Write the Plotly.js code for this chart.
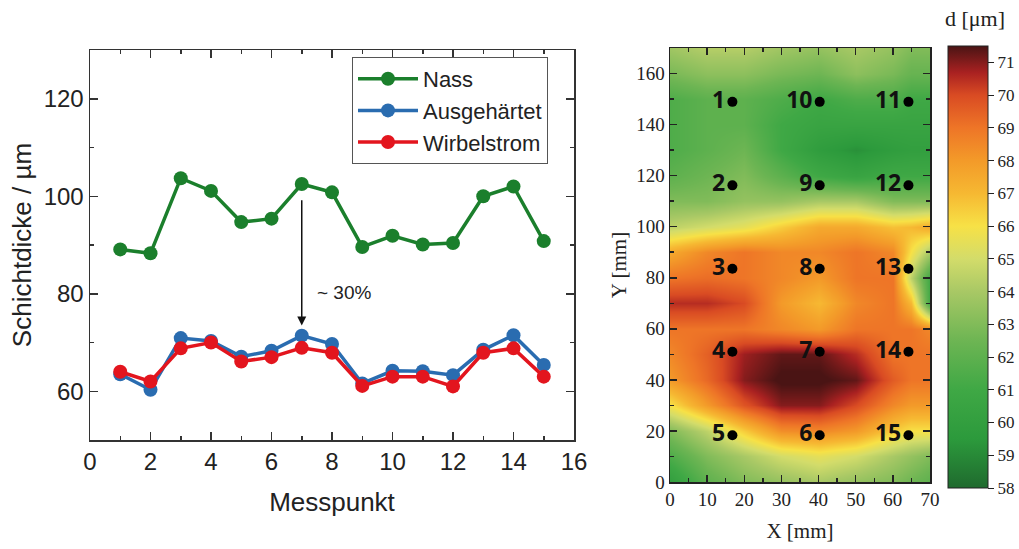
<!DOCTYPE html>
<html><head><meta charset="utf-8">
<script src="https://cdn.plot.ly/plotly-3.0.1.min.js"></script>
<style>html,body{margin:0;padding:0;background:#fff}#c{width:1019px;height:549px}</style>
</head><body><div id="c"></div>
<script>
// ---- Left chart data ----
const messpunkt = [1,2,3,4,5,6,7,8,9,10,11,12,13,14,15];
const nass = [89.1,88.3,103.7,101.1,94.7,95.4,102.5,100.8,89.6,91.9,90.1,90.4,100.0,102.0,90.8];
const ausgehaertet = [63.5,60.3,70.9,70.3,67.1,68.3,71.4,69.7,61.6,64.2,64.1,63.3,68.5,71.5,65.4];
const wirbelstrom = [64.0,62.0,68.8,70.0,66.1,67.0,68.9,67.9,61.1,63.0,63.0,61.0,67.9,68.8,63.0];
const seriesNames = ['Nass','Ausgehärtet','Wirbelstrom'];

// ---- Right chart (thickness map) data ----
const mapX = [0,10,20,30,40,50,60,65,70];
const mapY = [0,10,20,30,40,50,60,70,80,90,100,110,120,130,140,150,160,170];
const mapZ = [
  [60,62,63,63.5,64,63.5,63,62.5,62],            // y=0
  [61.5,63,64,65,65.5,65,64,63.5,63],            // 10
  [63,64.5,66.5,68.3,68.5,68,66.5,66,66],        // 20
  [66,68,69.8,71,71,70,68.5,68,68],              // 30
  [68,69.3,71,71.6,71.6,71.3,69.6,69,69],        // 40
  [68.5,69.5,70.8,71.3,71.3,70.5,69,69,69],      // 50
  [69,69,69,68.5,68,69,69,69,68.5],              // 60
  [70.5,70.5,70,68,67,68.5,69,67,61],            // 70
  [69,69.2,69,68.5,68,69,69,64.5,61],            // 80
  [67.5,68.5,69,68.5,68.5,69,68.5,66,64],        // 90
  [64.5,65,65.5,66.5,67.5,67.5,66.8,67,67.5],    // 100
  [63,63,63.5,63.5,64,64,63,63,63],              // 110
  [62,62.5,63,62,61,60.5,61,61,61],              // 120
  [61.5,62,62.5,61,59.8,59.2,59.8,60,60],        // 130
  [61.5,62,62,61,60.5,60.5,60.5,60.5,60.5],      // 140
  [61.5,62,62,61.5,61,61.5,61.5,61,61],          // 150
  [62.8,63.3,63.3,62.8,62.5,63.3,62.8,62.3,62.3],// 160
  [63.8,64.3,64.3,63.8,63.5,64,63.5,63,63]       // 170
];
const ptX = [16.8,16.8,16.8,16.8,16.8,40.3,40.3,40.3,40.3,40.3,64.2,64.2,64.2,64.2,64.2];
const ptY = [148.9,116.2,83.5,51.0,18.3,18.3,51.0,83.5,116.2,148.9,148.9,116.2,83.5,51.0,18.3];
const ptLabels = ['1','2','3','4','5','6','7','8','9','10','11','12','13','14','15'];
const cbTicks = [58,59,60,61,62,63,64,65,66,67,68,69,70,71];

const colorscale = [
  [0,'#1f6a2e'],[0.111,'#2c9a3c'],[0.222,'#3fa845'],[0.333,'#6db553'],
  [0.444,'#a8c865'],[0.5185,'#d3dc6a'],[0.5926,'#f7e146'],[0.667,'#f6b832'],
  [0.741,'#f39a29'],[0.815,'#ee7527'],[0.889,'#d94b23'],[0.94,'#a92121'],[1,'#4a1414']
];

const sans = 'Liberation Sans, Arial, sans-serif';
const serif = 'Liberation Serif, Times New Roman, serif';

const traces = [
  {x:messpunkt,y:nass,name:seriesNames[0],type:'scatter',mode:'lines+markers',
   line:{color:'#1b7f2c',width:3.5},marker:{color:'#1b7f2c',size:14},xaxis:'x',yaxis:'y'},
  {x:messpunkt,y:ausgehaertet,name:seriesNames[1],type:'scatter',mode:'lines+markers',
   line:{color:'#2a6cb0',width:3.5},marker:{color:'#2a6cb0',size:14},xaxis:'x',yaxis:'y'},
  {x:messpunkt,y:wirbelstrom,name:seriesNames[2],type:'scatter',mode:'lines+markers',
   line:{color:'#e3151e',width:3.5},marker:{color:'#e3151e',size:14},xaxis:'x',yaxis:'y'},
  {x:mapX,y:mapY,z:mapZ,type:'heatmap',zsmooth:'best',xaxis:'x2',yaxis:'y2',
   colorscale:colorscale,zmin:58,zmax:71.5,showlegend:false,hoverinfo:'skip',
   colorbar:{x:948/1019,xanchor:'left',xpad:0,ypad:0,y:61/549,yanchor:'bottom',len:442/549,lenmode:'fraction',
     thickness:40,thicknessmode:'pixels',outlinecolor:'#222',outlinewidth:1,
     tickvals:cbTicks,ticks:'outside',ticklen:6,tickcolor:'#222',
     tickfont:{family:serif,size:17,color:'#222'}}},
  {x:ptX,y:ptY,text:ptLabels,type:'scatter',mode:'markers+text',textposition:'middle left',
   textfont:{family:'Open Sans, sans-serif',size:23,color:'#111',weight:'bold'},
   marker:{color:'#000',size:10},xaxis:'x2',yaxis:'y2',showlegend:false,hoverinfo:'skip',cliponaxis:false}
];

const axL = {showline:true,linecolor:'#333',linewidth:1.5,mirror:'ticks',ticks:'inside',ticklen:8,
  tickwidth:1.5,tickcolor:'#333',showgrid:false,zeroline:false,
  tickfont:{family:sans,size:24,color:'#222'}};
const axR = {showline:true,linecolor:'#222',linewidth:1.5,mirror:'ticks',ticks:'inside',ticklen:7,
  tickwidth:1.5,tickcolor:'#222',showgrid:false,zeroline:false,
  tickfont:{family:serif,size:19,color:'#222'}};

const layout = {
  width:1019,height:549,margin:{l:0,r:0,t:0,b:0},paper_bgcolor:'#fff',plot_bgcolor:'#fff',
  showlegend:true,
  legend:{x:352/1019,y:(549-57)/549,xanchor:'left',yanchor:'top',bordercolor:'#555',borderwidth:1,
    bgcolor:'#fff',font:{family:sans,size:22,color:'#222'},tracegroupgap:0,itemwidth:60},
  xaxis:Object.assign({},axL,{domain:[90/1019,574/1019],range:[0,16],dtick:2,anchor:'y',
    minor:{dtick:1,ticks:'inside',ticklen:4,tickcolor:'#333'},
    title:{text:'Messpunkt',font:{family:sans,size:26,color:'#222'},standoff:18}}),
  yaxis:Object.assign({},axL,{domain:[109/549,499/549],range:[50,130],tickvals:[60,80,100,120],anchor:'x',
    minor:{tickvals:[50,70,90,110,130],ticks:'inside',ticklen:4,tickcolor:'#333'},
    title:{text:'Schichtdicke / µm',font:{family:sans,size:26,color:'#222'},standoff:4}}),
  xaxis2:Object.assign({},axR,{domain:[670/1019,930/1019],range:[0,70],dtick:10,anchor:'y2',
    minor:{dtick:5,ticks:'inside',ticklen:4,tickcolor:'#222'},
    title:{text:'X [mm]',font:{family:serif,size:21,color:'#222'},standoff:14}}),
  yaxis2:Object.assign({},axR,{domain:[67/549,501/549],range:[0,170],dtick:20,anchor:'x2',
    minor:{dtick:10,ticks:'inside',ticklen:4,tickcolor:'#222'},
    title:{text:'Y [mm]',font:{family:serif,size:21,color:'#222'},standoff:4}}),
  annotations:[
    {x:7,y:73.5,ax:7,ay:99.5,xref:'x',yref:'y',axref:'x',ayref:'y',showarrow:true,
     arrowhead:2,arrowsize:1.2,arrowwidth:1.5,arrowcolor:'#111',text:''},
    {x:7.45,y:80.2,xref:'x',yref:'y',text:'~ 30%',showarrow:false,xanchor:'left',
     font:{family:sans,size:19,color:'#222'}},
    {x:975/1019,y:(549-18)/549,xref:'paper',yref:'paper',text:'d [μm]',showarrow:false,
     xanchor:'center',yanchor:'middle',font:{family:serif,size:22,color:'#222'}}
  ]
};

Plotly.newPlot('c',traces,layout,{staticPlot:true});
</script></body></html>
